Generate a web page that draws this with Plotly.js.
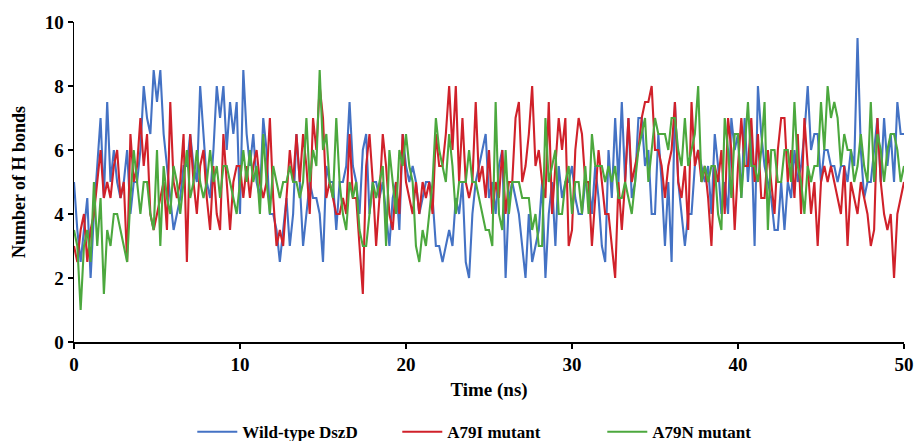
<!DOCTYPE html>
<html>
<head>
<meta charset="utf-8">
<script src="https://cdn.plot.ly/plotly-3.0.1.min.js"></script>
<style>html,body{margin:0;padding:0;background:#fff;}#chart{width:917px;height:441px;}</style>
</head>
<body>
<div id="chart"></div>
<script>
// Time axis: 0 to 50 ns sampled every 0.2 ns
const timeStep = 0.2;
const seriesNames = ["Wild-type DszD", "A79I mutant", "A79N mutant"];
const xTicks = [0, 10, 20, 30, 40, 50];
const yTicks = [0, 2, 4, 6, 8, 10];

const wildType = [
5,3.5,2.5,3.5,4.5,2,4,5.5,7,4.5, 7.5,5,6,5,4.5,5,6,4,5,5, 6,8,7,6.5,8.5,7.5,8.5,6.5,5.5,4.5,
3.5,4,4.5,5.5,5.5,6.5,5.5,5,8,6.5, 5,4.5,6,8,7,8,6,7.5,6.5,7.5, 4,
8.5,6.5,5.5,6.5,5,4.5,7,6,4,4, 3.5,2.5,3.5,4.5,3,4,6.5,5,3,4, 5,4.5,4.5,4,2.5,5.5,
5,5,3.5,5,5,5.5,7.5,5.5,5,4, 6,6.5,4,5,5,4.5,5,4,3,4.5, 5,3.5,6.5,5.5,5,5.5,
5,4,4.5,5,5,4.5,3,3,2.5,3, 3.5,3,4.5,4,5,2.5,2,4,5,5.5, 6,6.5,4.5,5,
4,5.5,6,2,4.5,5,4.5,4,3,2, 4,2.5,3,3.5,5,2,4,5,3,5.5, 4.5,5,5,5.5,4.5,4,
4,5,5,4,5.5,4.5,3,2.5,6,4.5, 7,5,7.5,5,7,4.5,5,7,7,5.5, 6,4,4,6.5,
5,3,5,2.5,7.5,5,4,3,4,4, 5.5,6,5.5,5,5.5,4,6.5,5.5,4,5, 4,7,6,6.5,4.5,7,
5,6.5,3,8,6.5,5.5,5,4.5,3.5,3.5, 5,3.5,5,4.5,6,5,5.5,6.5,8,6, 6.5,6.5,5,6,6,
5.5,5.5,5,5.5,5.5,5,6,5.5,9.5,6, 4.5,5,5,6,7,5,7,5.5,6.5,5, 7.5,6.5,6.5
];

const a79i = [
3,2.5,3.5,4,2.5,3.5,4,5,6,4.5, 5,4.5,5.5,6,4.5,5,2.5,6.5,5,5.5, 7,5.5,6.5,4,3.5,4,4.5,5,3.5,7.5,
5,4.5,5,6.5,2.5,6.5,5,4,5.5,6, 4.5,3.5,5.5,4,3.5,6.5,5,3.5,5,5.5, 5.5,
4.5,5.5,4.5,5.5,6,5,4.5,5,7,4.5, 3,3.5,3,4.5,6,5,6.5,5,6.5,5.5, 4,7,6,8,7,4.5,
5,4.5,4,4,4.5,4,6.5,4.5,4.5,3, 1.5,5.5,6.5,5,3,4.5,6.5,5.5,4,3.5, 5,4,6.5,5,4.5,4,
5,4,5,4.5,5,4,6.5,5.5,5.5,6.5, 8,6,8,5,7,5,4.5,5,7.5,5, 5.5,4.5,6,4,
5,4.5,6,4,5,5,7,7.5,5,5.5, 6.5,8,5.5,6,5,4.5,7.5,4,5.5,7, 6,7,3,3.5,6,7,
6.5,5,5,3,4.5,6,5,4,4,3, 2,5,3.5,5,7,5,5.5,6,7,7.5, 7.5,8,6,6,
5.5,4.5,5.5,6,7.5,5,4.5,5.5,3.5,7.5, 5.5,6,5,5.5,4.5,3,5.5,5,6,4, 7,6,3.5,5.5,7,5.5,
5.5,7,5,6.5,4.5,4.5,6,5,4,6, 7,7,5,6,4.5,6.5,4,7,5.5,4, 5,3,5,5.5,5,
5.5,5,4.5,4,5.5,3,5,4.5,4,5, 4.5,4,3,3.5,7,5,4,3.5,4,2, 4,4.5,5
];

const a79n = [
3.5,3,1,3,3.5,2.5,5,3,4.5,1.5, 3.5,3,4,4,3.5,3,2.5,4.5,6,5, 4,5,5,4,3.5,6,3,5.5,4.5,4,
5.5,5,4,5,6,4.5,5,6,5,4.5, 5,6,5,5.5,4.5,5.5,5.5,5,4.5,4, 5,
6,5,6,5,5.5,4,6.5,5,4,5.5, 5,4.5,5,5,5.5,5,5,4.5,5,7, 5,6,5.5,8.5,6,6.5,
5,4.5,7,5,4,3.5,5,4.5,5,3.5, 3,3,4,5,4.5,5,5.5,3,6,5, 4,6,5.5,6.5,5.5,5,
3,2.5,3.5,3,4,5,7,6,5.5,5, 6.5,5.5,4,5,5,5,6,5,5,4.5, 4,3.5,3.5,3,
7.5,4,3.5,6,4,5,5,5,4.5,4.5, 4.5,3.5,4,3,3,7,5,5.5,6,4, 4,5,5.5,4,5,5,
4,5.5,4,6.5,5.5,5.5,5.5,5,5.5,5, 5.5,4.5,4.5,5,4.5,4,5,6,6.5,7, 5,6,7,6.5,
6.5,6.5,6,7,7,6,5.5,7,5.5,6, 6.5,8,5,5.5,5,5.5,5.5,4,3.5,7, 6,4.5,6.5,6.5,4.5,6,
7.5,5.5,5.5,5,6,7.5,3.5,6,6,5, 5,6,6,5,7.5,5.5,5,4,5.5,5, 5.5,5.5,7.5,6,8,
7,7.5,7,5.5,6.5,6,6,5,5.5,6.5, 5.5,5,7.5,5,6.5,6,5,6,6.5,6.5, 6,5,5.5
];

const colors = ["#4472C4", "#D0212A", "#4CA83E"];
const seriesValues = [wildType, a79i, a79n];

const traces = seriesValues.map((vals, k) => ({
  type: "scatter",
  mode: "lines",
  name: seriesNames[k],
  x: vals.map((_, i) => +(i * timeStep).toFixed(2)),
  y: vals,
  line: {color: colors[k], width: 2.1}
}));

const fontFam = "'Liberation Serif', 'Times New Roman', serif";
const layout = {
  width: 917, height: 441,
  margin: {l: 74, r: 13, t: 22, b: 99},
  paper_bgcolor: "#fff", plot_bgcolor: "#fff",
  font: {family: fontFam, color: "#000", size: 17, weight: "bold"},
  showlegend: true,
  legend: {
    orientation: "h", x: 0.513, xanchor: "center",
    yref: "container", y: 0.02, yanchor: "middle",
    font: {family: fontFam, size: 17, color: "#000", weight: "bold"},
    itemwidth: 40, tracegroupgap: 0, entrywidth: 150
  },
  xaxis: {
    range: [0, 50], tickvals: xTicks, ticktext: xTicks.map(String),
    showline: true, linecolor: "#000", linewidth: 1.5,
    ticks: "outside", ticklen: 5, tickcolor: "#000", tickwidth: 1.5,
    showgrid: false, zeroline: false,
    tickfont: {family: fontFam, size: 19, color: "#000", weight: "bold"},
    title: {text: "Time (ns)", font: {family: fontFam, size: 19, color: "#000", weight: "bold"}, standoff: 8}
  },
  yaxis: {
    range: [0, 10], tickvals: yTicks, ticktext: yTicks.map(String),
    showline: true, linecolor: "#000", linewidth: 1.5,
    ticks: "outside", ticklen: 5, tickcolor: "#000", tickwidth: 1.5,
    showgrid: false, zeroline: false,
    tickfont: {family: fontFam, size: 19, color: "#000", weight: "bold"},
    title: {text: "Number of H bonds", font: {family: fontFam, size: 18, color: "#000", weight: "bold"}, standoff: 14}
  }
};

Plotly.newPlot("chart", traces, layout, {displayModeBar: false, staticPlot: true});
</script>
</body>
</html>
